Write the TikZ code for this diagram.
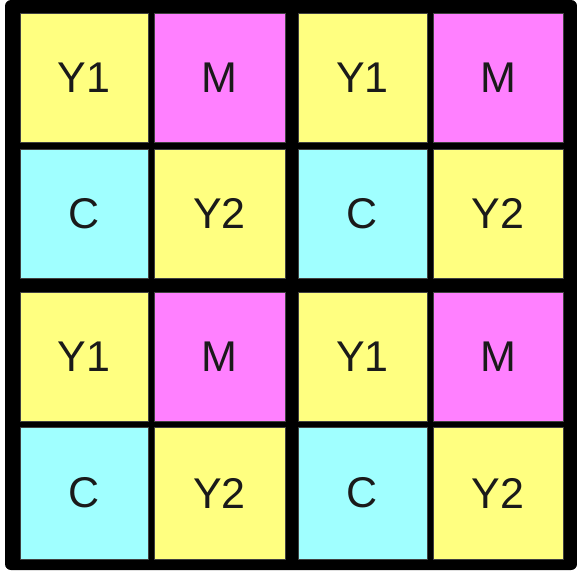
\documentclass[tikz,border=0pt]{standalone}
\usepackage{fontspec}
\setmainfont{Liberation Sans}
\definecolor{yel}{HTML}{FFFF80}
\definecolor{mag}{HTML}{FF80FF}
\definecolor{cya}{HTML}{A0FFFF}
\definecolor{ink}{HTML}{1A1A1A}
\begin{document}
\begin{tikzpicture}[x=1pt,y=-1pt,
  cell/.style={draw=black!75, line width=0.6pt, inner sep=0pt, text=ink,
    font=\fontsize{43}{43}\selectfont},
  cY/.style={cell, fill=yel},
  cM/.style={cell, fill=mag},
  cC/.style={cell, fill=cya},
  w1/.style={minimum width=128pt}, w2/.style={minimum width=131pt},
  w3/.style={minimum width=129pt}, w4/.style={minimum width=130pt},
  h1/.style={minimum height=129pt}, h2/.style={minimum height=129pt},
  h3/.style={minimum height=129pt}, h4/.style={minimum height=132pt}]
\useasboundingbox (0,0) rectangle (577,570);
\fill[black, rounded corners=6pt] (5,0) rectangle (577,570);
% row 1
\node[cY,w1,h1] (r1c1) at (84,77.5)    {Y1};
\node[cM,w2,h1] (r1c2) at (219.5,77.5) {M};
\node[cY,w3,h1] (r1c3) at (362.5,77.5) {Y1};
\node[cM,w4,h1] (r1c4) at (498,77.5)   {M};
% row 2
\node[cC,w1,h2] (r2c1) at (84,213.5)    {C};
\node[cY,w2,h2] (r2c2) at (219.5,213.5) {Y2};
\node[cC,w3,h2] (r2c3) at (362.5,213.5) {C};
\node[cY,w4,h2] (r2c4) at (498,213.5)   {Y2};
% row 3
\node[cY,w1,h3] (r3c1) at (84,356.5)    {Y1};
\node[cM,w2,h3] (r3c2) at (219.5,356.5) {M};
\node[cY,w3,h3] (r3c3) at (362.5,356.5) {Y1};
\node[cM,w4,h3] (r3c4) at (498,356.5)   {M};
% row 4
\node[cC,w1,h4] (r4c1) at (84,493)    {C};
\node[cY,w2,h4] (r4c2) at (219.5,493) {Y2};
\node[cC,w3,h4] (r4c3) at (362.5,493) {C};
\node[cY,w4,h4] (r4c4) at (498,493)   {Y2};
\end{tikzpicture}
\end{document}
